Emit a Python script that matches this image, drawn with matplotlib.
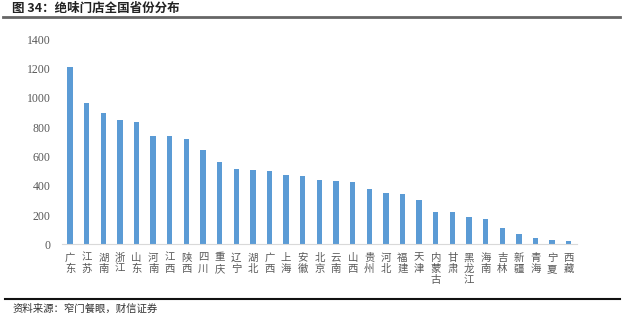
import numpy as np
import matplotlib.pyplot as plt

plt.rcParams['font.family'] = ['Noto Sans CJK SC', 'DejaVu Sans']

provinces = ['广东', '江苏', '湖南', '浙江', '山东', '河南', '江西', '陕西', '四川', '重庆',
             '辽宁', '湖北', '广西', '上海', '安徽', '北京', '云南', '山西', '贵州', '河北',
             '福建', '天津', '内蒙古', '甘肃', '黑龙江', '海南', '吉林', '新疆', '青海', '宁夏', '西藏']
stores = [1208, 967, 895, 849, 838, 742, 738, 719, 644, 564,
          516, 510, 503, 471, 464, 441, 434, 428, 380, 350,
          344, 300, 221, 221, 189, 175, 109, 72, 41, 29, 23]
yticks = [0, 200, 400, 600, 800, 1000, 1200, 1400]

fig = plt.figure(figsize=(6.4, 3.21), dpi=100)
ax = fig.add_axes([0.0964, 0.2389, 0.8052, 0.6387])

x = np.arange(len(provinces))
ax.bar(x, stores, width=0.32, color='#5B9BD5')

ax.set_xlim(-0.5, len(provinces) - 0.5)
ax.set_ylim(0, 1400)
ax.set_yticks(yticks)
ax.set_yticklabels([str(v) for v in yticks], family='Liberation Serif', fontsize=8.5, color='#595959')
ax.set_xticks(x)
ax.set_xticklabels(['\n'.join(p) for p in provinces], fontsize=7.5, color='#595959',
                   linespacing=1.15, va='top')
ax.tick_params(length=0, pad=6)
ax.tick_params(axis='y', pad=8)
for s in ['top', 'right', 'left']:
    ax.spines[s].set_visible(False)
ax.spines['bottom'].set_color('#D9D9D9')

# header / footer
fig.text(0.019, 0.975, '图 34：绝味门店全国省份分布', fontsize=9, fontweight='bold',
         color='#222222', va='center')
fig.add_artist(plt.Line2D([0.005, 0.969], [0.947, 0.947], color='#666666', lw=2))
fig.add_artist(plt.Line2D([0.008, 0.969], [0.069, 0.069], color='#111111', lw=1.5))
fig.text(0.019, 0.037, '资料来源：窄门餐眼，财信证券', fontsize=7.5, style='italic',
         color='#333333', va='center')

plt.savefig('out.png', dpi=100)
